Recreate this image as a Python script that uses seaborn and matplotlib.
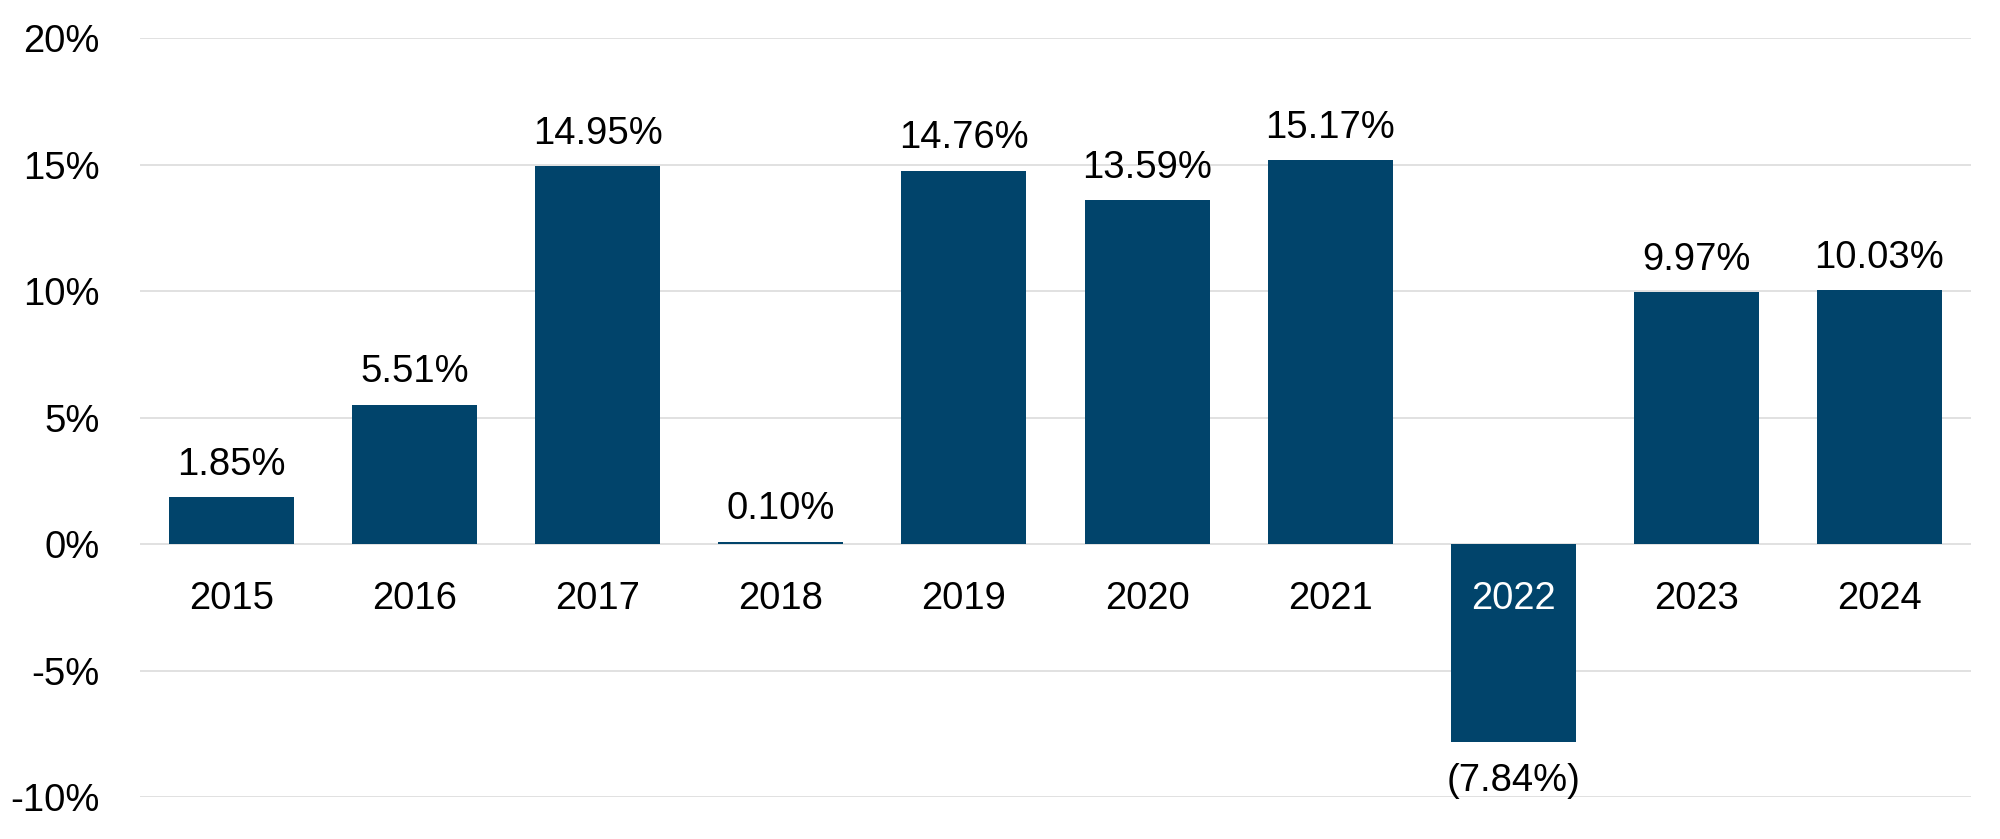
import matplotlib
matplotlib.use("Agg")
import matplotlib.pyplot as plt
import seaborn as sns

# data
years = ["2015", "2016", "2017", "2018", "2019", "2020", "2021", "2022", "2023", "2024"]
returns = [1.85, 5.51, 14.95, 0.10, 14.76, 13.59, 15.17, -7.84, 9.97, 10.03]
y_ticks = [-10, -5, 0, 5, 10, 15, 20]

bar_color = "#01446B"
grid_color = "#D9D9D9"

sns.set_theme(style="white")
plt.rcParams["font.family"] = ["Liberation Sans", "DejaVu Sans"]

fig = plt.figure(figsize=(20, 8.39), dpi=100)
ax = fig.add_axes([0.07, 0.05, 0.9155, 0.9047])

sns.barplot(x=years, y=returns, color=bar_color, saturation=1, width=0.683,
            linewidth=0, ax=ax)

ax.set_xlim(-0.5, len(years) - 0.5)
ax.set_ylim(y_ticks[0], y_ticks[-1])
ax.set_yticks(y_ticks)
ax.set_yticklabels([f"{t}%" for t in y_ticks])
ax.tick_params(axis="y", length=0, pad=29, labelsize=27.5, labelcolor="black")
ax.tick_params(axis="x", length=0, labelbottom=False)
ax.set_xlabel("")
ax.set_ylabel("")

ax.yaxis.grid(True, color=grid_color, linewidth=1.1)
ax.set_axisbelow(True)
for s in ax.spines.values():
    s.set_visible(False)

# value labels and category labels
for i, (yr, v) in enumerate(zip(years, returns)):
    if v >= 0:
        txt = f"{v:.2f}%"
        ax.annotate(txt, (i, v), xytext=(0, 16), textcoords="offset points",
                    ha="center", va="baseline", fontsize=27.5, color="black")
    else:
        txt = f"({abs(v):.2f}%)"
        ax.annotate(txt, (i, v), xytext=(0, -35), textcoords="offset points",
                    ha="center", va="baseline", fontsize=27.5, color="black")
    ax.annotate(yr, (i, 0), xytext=(0, -47), textcoords="offset points",
                ha="center", va="baseline", fontsize=27.5,
                color="white" if v < -5 else "black")

fig.savefig("out.png", dpi=100)
